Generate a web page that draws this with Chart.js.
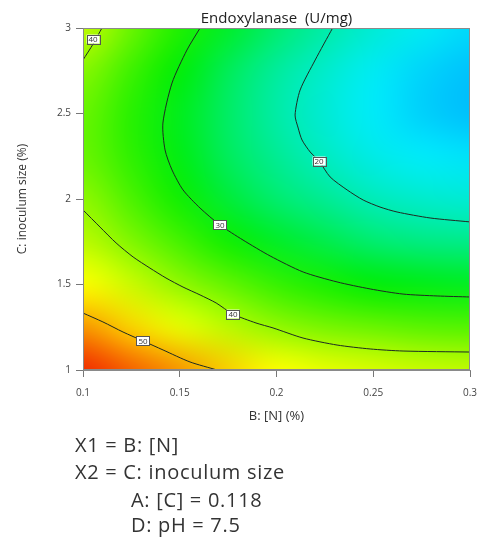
<!DOCTYPE html>
<html>
<head>
<meta charset="UTF-8">
<title>Endoxylanase (U/mg)</title>
<script src="https://cdn.jsdelivr.net/npm/chart.js"></script>
<style>
  body { margin: 0; background: #fff; }
  #wrap { position: relative; width: 479px; height: 544px; }
  .note { position: absolute; font-family: 'Open Sans', sans-serif; font-size: 20px; line-height: 20px; letter-spacing: 0.7px; color: #333; white-space: nowrap; }
</style>
</head>
<body>
<div id="wrap">
  <canvas id="chart" width="479" height="544"></canvas>
  <div class="note" style="left:75px;top:435px">X1 = B: [N]</div>
  <div class="note" style="left:75px;top:462px">X2 = C: inoculum size</div>
  <div class="note" style="left:131px;top:490px">A: [C] = 0.118</div>
  <div class="note" style="left:131px;top:515px">D: pH = 7.5</div>
</div>
<script>
const FONT = "'Open Sans', sans-serif";

const xTicks = [0.1, 0.15, 0.2, 0.25, 0.3];
const yTicks = [1, 1.5, 2, 2.5, 3];

// response, rows follow gridY, columns follow gridX
const gridX = [0.1, 0.125, 0.15, 0.175, 0.2, 0.225, 0.25, 0.275, 0.3];
const gridY = [1, 1.25, 1.5, 1.75, 2, 2.25, 2.5, 2.75, 3];
const activity = [
  [57, 54.5, 52, 49.3, 47, 45.5, 44.5, 43.5, 43],
  [52, 49, 45.5, 42.5, 39.7, 38, 37, 36, 35.5],
  [47, 43.5, 39.7, 36.5, 33.5, 31.5, 29.7, 29, 28.3],
  [42.5, 38.5, 34.5, 31, 28, 26, 24, 23, 22.6],
  [39.5, 35, 31, 27, 24, 22, 20, 19, 18.5],
  [37, 33, 29, 25, 22, 19.5, 17.5, 16.5, 16],
  [37, 32.5, 28.5, 24.5, 21, 18.5, 16.5, 15, 14],
  [39, 34, 29.6, 25.2, 21.5, 19, 16.8, 15.2, 14.2],
  [43, 37, 32, 27.8, 24, 21, 18.5, 16.8, 15.5]
];

// contour lines, [B, C] pairs
const contour20 = [[0.229, 3.0], [0.220, 2.813], [0.2122, 2.637], [0.2096, 2.491], [0.2112, 2.415], [0.2132, 2.345],
  [0.2174, 2.275], [0.222, 2.222], [0.2277, 2.129], [0.2365, 2.053], [0.2448, 1.994], [0.2535, 1.953], [0.2623, 1.924],
  [0.2794, 1.889], [0.3, 1.866]];
const contour30 = [[0.1605, 3.0], [0.1537, 2.871], [0.146, 2.678], [0.1413, 2.444], [0.1424, 2.287], [0.146, 2.17],
  [0.1517, 2.053], [0.1605, 1.947], [0.1708, 1.848], [0.1827, 1.76], [0.1967, 1.667], [0.2138, 1.573], [0.2313, 1.515],
  [0.2484, 1.474], [0.2654, 1.444], [0.283, 1.433], [0.3, 1.427]];
const contour40top = [[0.1, 2.813], [0.1052, 2.906], [0.1098, 3.0]];
const contour40 = [[0.1, 1.936], [0.1088, 1.836], [0.1171, 1.743], [0.1259, 1.661], [0.1346, 1.596], [0.1429, 1.538],
  [0.1517, 1.485], [0.1605, 1.439], [0.1688, 1.392], [0.1775, 1.327], [0.1894, 1.275], [0.1982, 1.246], [0.2137, 1.187],
  [0.2313, 1.146], [0.2484, 1.123], [0.2654, 1.111], [0.3, 1.105]];
const contour50 = [[0.1, 1.333], [0.1103, 1.281], [0.1207, 1.222], [0.131, 1.17], [0.1414, 1.117], [0.1553, 1.047], [0.1693, 1.0]];

const labelText = ['40', '20', '30', '40', '50'];
const labelX = [0.1052, 0.222, 0.1708, 0.1775, 0.131];
const labelY = [2.935, 2.222, 1.848, 1.327, 1.17];

// colour scale: value -> rgb
const colorStops = [
  [10, [0, 120, 255]],
  [16.5, [0, 235, 250]],
  [30, [0, 238, 0]],
  [47, [255, 255, 0]],
  [58, [240, 20, 0]]
];

const colorFor = (v) => {
  if (v <= colorStops[0][0]) return colorStops[0][1];
  for (let i = 1; i < colorStops.length; i++) {
    const [v1, c1] = colorStops[i];
    const [v0, c0] = colorStops[i - 1];
    if (v <= v1) {
      const t = (v - v0) / (v1 - v0);
      return c0.map((c, k) => Math.round(c + (c1[k] - c) * t));
    }
  }
  return colorStops[colorStops.length - 1][1];
};

const tickText = (v) => String(+Number(v).toFixed(2));

const heatmap = {
  id: 'heatmap',
  beforeDatasetsDraw(chart) {
    const { ctx, chartArea: a, scales: { x, y } } = chart;
    const nx = gridX.length, ny = gridY.length;
    const off = document.createElement('canvas');
    off.width = nx; off.height = ny;
    const octx = off.getContext('2d');
    const img = octx.createImageData(nx, ny);
    for (let r = 0; r < ny; r++) {
      for (let c = 0; c < nx; c++) {
        const rgb = colorFor(activity[r][c]);
        const i = ((ny - 1 - r) * nx + c) * 4;
        img.data[i] = rgb[0]; img.data[i + 1] = rgb[1]; img.data[i + 2] = rgb[2]; img.data[i + 3] = 255;
      }
    }
    octx.putImageData(img, 0, 0);
    const x0 = x.getPixelForValue(gridX[0]);
    const x1 = x.getPixelForValue(gridX[nx - 1]);
    const yTop = y.getPixelForValue(gridY[ny - 1]);
    const yBot = y.getPixelForValue(gridY[0]);
    const cw = (x1 - x0) / (nx - 1), ch = (yBot - yTop) / (ny - 1);
    ctx.save();
    ctx.beginPath();
    ctx.rect(a.left, a.top, a.right - a.left, a.bottom - a.top);
    ctx.clip();
    ctx.imageSmoothingEnabled = true;
    ctx.imageSmoothingQuality = 'high';
    ctx.drawImage(off, x0 - cw / 2, yTop - ch / 2, cw * nx, ch * ny);
    ctx.restore();
  }
};

const frame = {
  id: 'frame',
  afterDatasetsDraw(chart) {
    const { ctx, chartArea: a, scales: { x, y } } = chart;
    ctx.save();
    ctx.strokeStyle = '#8a8a8a';
    ctx.lineWidth = 1;
    ctx.strokeRect(a.left + 0.5, a.top + 0.5, a.right - a.left - 1, a.bottom - a.top - 1);

    // contour labels
    ctx.font = '8px ' + FONT;
    ctx.textAlign = 'center';
    ctx.textBaseline = 'middle';
    labelText.forEach((t, i) => {
      const px = x.getPixelForValue(labelX[i]);
      const py = y.getPixelForValue(labelY[i]);
      const w = 13, h = 9;
      ctx.fillStyle = '#fff';
      ctx.fillRect(px - w / 2, py - h / 2, w, h);
      ctx.strokeStyle = '#555';
      ctx.strokeRect(Math.round(px - w / 2) + 0.5, Math.round(py - h / 2) + 0.5, w, h);
      ctx.fillStyle = '#333';
      ctx.fillText(t, px, py + 0.5);
    });

    // title
    ctx.font = '15px ' + FONT;
    ctx.fillStyle = '#222';
    ctx.textBaseline = 'alphabetic';
    ctx.fillText('Endoxylanase  (U/mg)', (a.left + a.right) / 2, 23);
    ctx.restore();
  }
};

const contours = [contour20, contour30, contour40top, contour40, contour50];

new Chart(document.getElementById('chart'), {
  type: 'scatter',
  data: {
    datasets: contours.map(pts => ({
      data: pts.map(([b, c]) => ({ x: b, y: c })),
      showLine: true,
      borderColor: '#1e2a22',
      borderWidth: 1,
      pointRadius: 0,
      tension: 0.25,
      fill: false
    }))
  },
  options: {
    responsive: false,
    animation: false,
    events: [],
    layout: { padding: { top: 28, right: 9, bottom: 120, left: 0 } },
    plugins: { legend: { display: false }, tooltip: { enabled: false } },
    scales: {
      x: {
        type: 'linear', min: 0.1, max: 0.3,
        afterBuildTicks: (s) => { s.ticks = xTicks.map(v => ({ value: v })); },
        afterFit: (s) => { s.height = 54; s.paddingRight = 0; s.paddingLeft = 0; },
        grid: { drawOnChartArea: false, tickLength: 7, color: '#777' },
        border: { color: '#8a8a8a' },
        ticks: { color: '#444', font: { size: 10, family: FONT }, padding: 10, maxRotation: 0, callback: tickText },
        title: { display: true, text: 'B: [N] (%)', color: '#333', font: { size: 13, family: FONT }, padding: { top: 0, bottom: 0 } }
      },
      y: {
        type: 'linear', min: 1, max: 3,
        afterBuildTicks: (s) => { s.ticks = yTicks.map(v => ({ value: v })); },
        afterFit: (s) => { s.width = 83; },
        grid: { drawOnChartArea: false, tickLength: 7, color: '#777' },
        border: { color: '#8a8a8a' },
        ticks: { color: '#444', font: { size: 10, family: FONT }, padding: 5, callback: tickText },
        title: { display: true, text: 'C: inoculum size (%)', color: '#333', font: { size: 12, family: FONT }, padding: { top: 15, bottom: 0 } }
      }
    }
  },
  plugins: [heatmap, frame]
});
</script>
</body>
</html>
